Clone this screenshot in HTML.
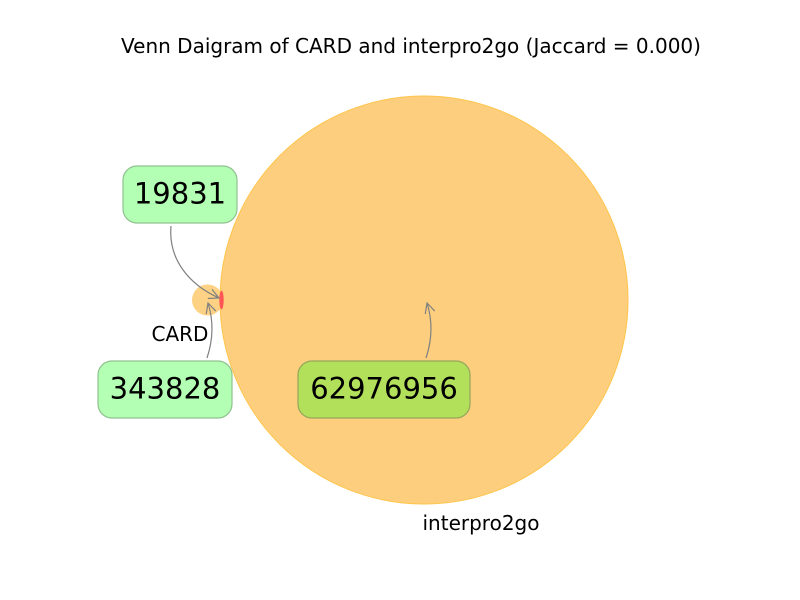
<!DOCTYPE html>
<html><head><meta charset="utf-8"><style>
body{margin:0;background:#fff}
svg{display:block;font-family:"DejaVu Sans","Liberation Sans",sans-serif}
</style></head><body>
<svg id="chart" width="800" height="600" viewBox="0 0 800 600">
<defs><marker id="ah" viewBox="0 0 12 12" refX="11" refY="6" markerWidth="12" markerHeight="12" markerUnits="userSpaceOnUse" orient="auto"><path d="M1,1 L11,6 L1,11" fill="none" stroke="#808080" stroke-width="1.2"/></marker></defs>
<text x="411" y="53" font-size="20" text-anchor="middle">Venn Daigram of CARD and interpro2go (Jaccard = 0.000)</text>
<g id="g"></g>
</svg>
<script>
const setNames = ["CARD", "interpro2go"];
const onlyA = [343828];
const onlyB = [62976956];
const both = [19831];

const NS = "http://www.w3.org/2000/svg";
const g = document.getElementById('g');
function mk(tag, attrs, parent) {
  const e = document.createElementNS(NS, tag);
  for (const k in attrs) e.setAttribute(k, attrs[k]);
  (parent || g).appendChild(e);
  return e;
}
const totA = onlyA[0] + both[0], totB = onlyB[0] + both[0];
const rB = 204, cxB = 424, cy = 300;
const rA = rB * Math.sqrt(totA / totB);
const cxA = cxB - rB - rA + 3;

const cA = mk('circle', {cx: cxA, cy: cy, r: rA, fill: '#fdca70', 'fill-opacity': 0.85});


const cB = mk('circle', {cx: cxB, cy: cy, r: rB, fill: '#fdce7e', stroke: '#ffc54a', 'stroke-width': 1});


const lens = mk('ellipse', {cx: cxB - rB + 1.5, cy: cy, rx: 2.2, ry: rA * 0.6, fill: '#f55'});



const l1 = mk('text', {x: 180, y: 341, 'font-size': 20, 'text-anchor': 'middle'});
l1.textContent = setNames[0];


const l2 = mk('text', {x: 481, y: 530, 'font-size': 20, 'text-anchor': 'middle'});
l2.textContent = setNames[1];



function arrow(d, name) {
  const p = mk('path', {d: d, fill: 'none', stroke: '#808080', 'stroke-width': 1.2, 'marker-end': 'url(#ah)'});
  
  
}
arrow('M171,226 C168,260 190,285 219,298', 'arrow-both');
arrow('M207,358 C213,340 214,322 208,303', 'arrow-card-only');
arrow('M426,358 C432,340 433,322 427,303', 'arrow-interpro-only');

function box(x, y, w, h, fill, stroke, val, name) {
  const r = mk('rect', {x: x, y: y, width: w, height: h, rx: 14, fill: fill, stroke: stroke, 'stroke-width': 1.2});
  
  
  const t = mk('text', {x: x + w / 2, y: y + h / 2 + 9, 'font-size': 29, 'text-anchor': 'middle'});
  t.textContent = String(val);
  
  
}
box(123, 166, 114, 57, '#b3ffb3', '#90c090', both[0], 'intersection-count');
box(98, 361, 134, 57, '#b3ffb3', '#90c090', onlyA[0], 'card-only-count');
box(298, 361, 172, 57, '#b3e05a', '#94a65a', onlyB[0], 'interpro2go-only-count');
</script>
</body></html>
